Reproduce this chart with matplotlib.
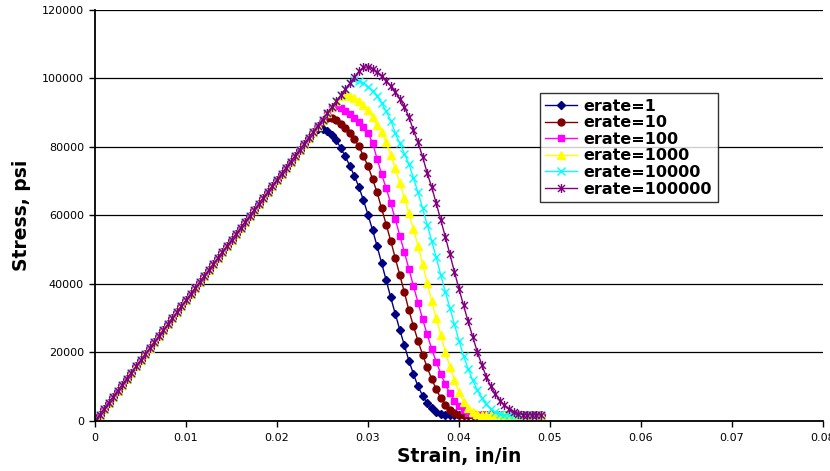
import numpy as np
import matplotlib
matplotlib.use("Agg")
import matplotlib.pyplot as plt
from matplotlib.path import Path

# strain step of the data (in/in)
step = 0.0005

# shared elastic loading branch, psi (0 .. 0.029)
elastic = [0, 1760, 3520, 5280, 7040, 8800, 10560, 12320, 14080, 15840,
           17600, 19360, 21120, 22880, 24640, 26400, 28160, 29920, 31680, 33440,
           35200, 36960, 38720, 40480, 42240, 44000, 45760, 47520, 49280, 51040,
           52800, 54560, 56320, 58080, 59840, 61600, 63360, 65120, 66880, 68640,
           70400, 72160, 73920, 75680, 77440, 79200, 80960, 82720, 84480, 86240,
           88000, 89760, 91520, 93280, 95040, 96800, 98560, 100320, 102080]

# softening branches after leaving the elastic line
soft_1 = [84000, 85200, 85300, 84700, 83500, 82000, 79700, 77200, 74500, 71500,
          68300, 64400, 60200, 55700, 51000, 46000, 41000, 36000, 31200, 26500,
          22000, 17500, 13600, 10000, 7300, 5200, 3600, 2500, 1900, 1700,
          1700, 1700, 1700, 1700, 1700, 1700, 1700, 1700, 1700, 1700,
          1700, 1700, 1700, 1700, 1700, 1700, 1700, 1700, 1700, 1700, 1700]
soft_10 = [86000, 87600, 88500, 88400, 87800, 86700, 85500, 84000, 82200, 80200,
           77300, 74400, 70600, 66700, 62000, 57300, 52500, 47500, 42500, 37500,
           32200, 27600, 23300, 19300, 15600, 12200, 9200, 6600, 4600, 3200,
           2300, 1800, 1700, 1700, 1700, 1700, 1700, 1700, 1700, 1700,
           1700, 1700, 1700, 1700, 1700, 1700, 1700, 1700, 1700, 1700]
soft_100 = [91400, 91900, 91300, 90500, 89600, 88500, 87300, 85800, 84000, 81200,
            76500, 72000, 67900, 63500, 58900, 54000, 49200, 44300, 39300, 34500,
            29700, 25200, 21000, 17200, 13700, 10600, 8000, 5900, 4300, 3100,
            2300, 1900, 1700, 1700, 1700, 1700, 1700, 1700, 1700, 1700,
            1700, 1700, 1700, 1700, 1700, 1700, 1700]
soft_1000 = [94800, 95400, 95000, 94400, 93500, 92300, 90700, 88700, 86400, 84300,
             81300, 77700, 73700, 69400, 65000, 60600, 55900, 51100, 45700, 40300,
             35000, 29900, 25000, 20200, 15800, 11800, 8300, 5500, 3700, 2500,
             1900, 1700, 1700, 1700, 1700, 1700, 1700, 1700, 1700, 1700,
             1700, 1700, 1700, 1700, 1700]
soft_10000 = [99500, 99300, 98600, 97600, 96400, 94800, 92700, 90400, 87700, 84000,
              81000, 78000, 75000, 70800, 66700, 62000, 57300, 52500, 47700, 42500,
              37700, 32900, 28200, 23300, 19000, 15200, 11900, 9000, 6700, 4800,
              3400, 2500, 2000, 1700, 1700, 1700, 1700, 1700, 1700, 1700,
              1700, 1700]
soft_100000 = [103200, 103400, 102800, 101800, 100600, 99300, 97700, 96000, 94000, 91700,
               88700, 84800, 81300, 77100, 72400, 68200, 63500, 58600, 53700, 48600,
               43500, 38500, 33700, 29000, 24600, 20200, 16400, 12800, 10000, 7800,
               5900, 4500, 3400, 2600, 2100, 1800, 1700, 1700, 1700, 1700]

labels = ["erate=1", "erate=10", "erate=100", "erate=1000", "erate=10000", "erate=100000"]
series = [elastic[:48] + soft_1,
          elastic[:49] + soft_10,
          elastic[:52] + soft_100,
          elastic[:54] + soft_1000,
          elastic[:57] + soft_10000,
          elastic[:59] + soft_100000]

colors = ["#000080", "#800000", "#FF00FF", "#FFFF00", "#00FFFF", "#800080"]

# excel style star: an x with a vertical bar
star = Path([(-1, -1), (1, 1), (-1, 1), (1, -1), (0, -1.3), (0, 1.3)],
            [Path.MOVETO, Path.LINETO, Path.MOVETO, Path.LINETO, Path.MOVETO, Path.LINETO])
markers = ["D", "o", "s", "^", "x", star]
msizes = [4.0, 5.0, 5.0, 5.5, 5.5, 6.5]

plt.rcParams['font.family'] = ['DejaVu Sans']

fig = plt.figure(figsize=(8.3, 4.71), dpi=100)
ax = fig.add_axes([0.1145, 0.1068, 0.877, 0.872])

for s, lab, c, m, ms in zip(series, labels, colors, markers, msizes):
    x = np.arange(len(s)) * step
    ax.plot(x, s, color=c, lw=1.0, marker=m, ms=ms, mec=c, mfc=c, mew=1.0, label=lab)

ax.set_xlim(0, 0.08)
ax.set_ylim(0, 120000)
ax.set_xticks(np.arange(0, 0.0801, 0.01))
ax.set_xticklabels(["0", "0.01", "0.02", "0.03", "0.04", "0.05", "0.06", "0.07", "0.08"])
ax.set_yticks(np.arange(0, 120001, 20000))
ax.yaxis.grid(True, color="black", lw=0.9)
ax.set_axisbelow(True)
ax.spines['top'].set_visible(False)
ax.spines['right'].set_visible(False)
ax.spines['left'].set_linewidth(1.3)
ax.spines['bottom'].set_linewidth(1.3)
ax.tick_params(direction='out', length=4, width=1, labelsize=8, colors='black', pad=4)
ax.tick_params(axis='x', pad=5)

ax.set_xlabel("Strain, in/in", fontsize=13.5, fontweight='bold', labelpad=3)
ax.set_ylabel("Stress, psi", fontsize=13.5, fontweight='bold', labelpad=8)

leg = ax.legend(loc='upper left', bbox_to_anchor=(0.611, 0.798), borderaxespad=0,
                prop={'weight': 'bold', 'size': 11.5}, fancybox=False,
                frameon=True, edgecolor='black', handlelength=2.0, labelspacing=0.1,
                borderpad=0.35, handletextpad=0.4)
leg.get_frame().set_linewidth(1.0)

fig.savefig("out.png", dpi=100)
